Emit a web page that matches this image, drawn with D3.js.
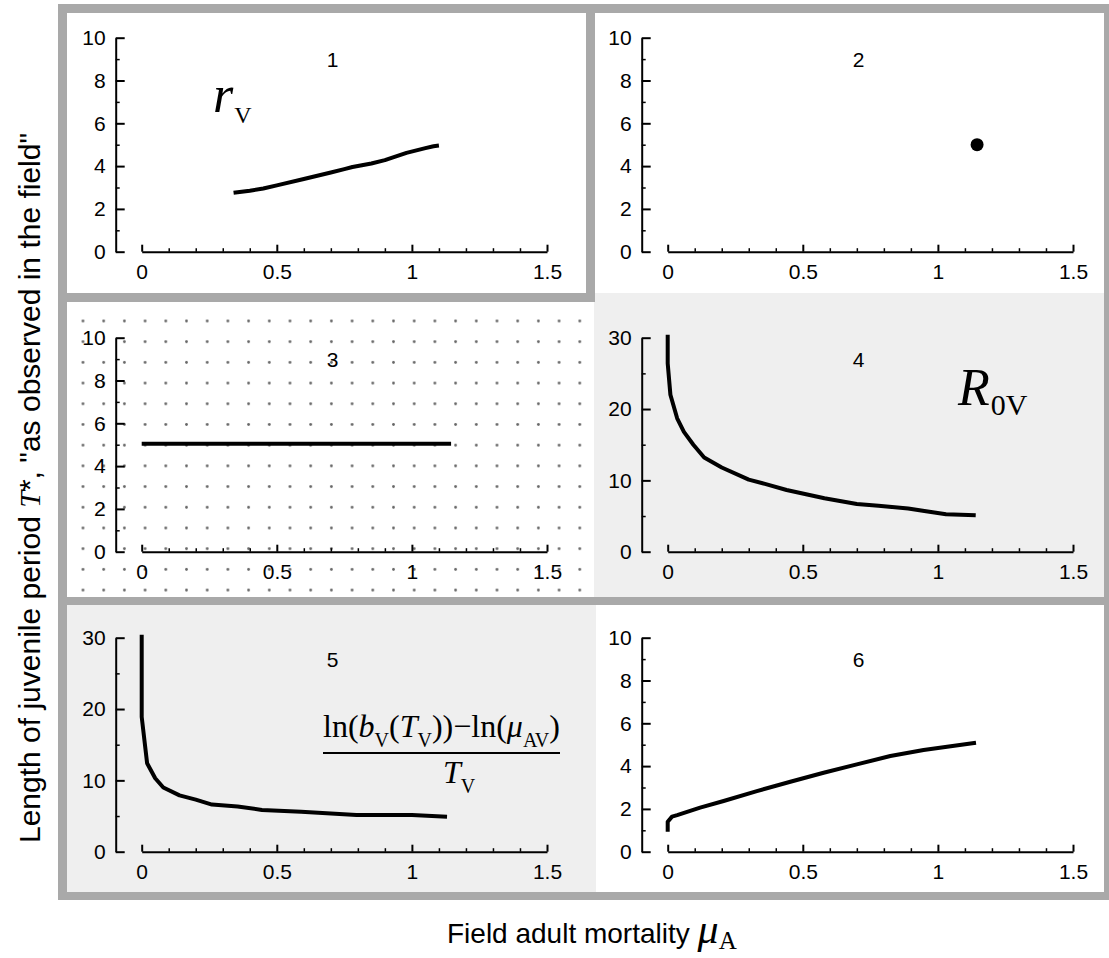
<!DOCTYPE html>
<html>
<head>
<meta charset="utf-8">
<script src="https://cdn.jsdelivr.net/npm/d3@7"></script>
<style>
  body { margin: 0; background: #fff; }
  svg { display: block; }
</style>
</head>
<body>
<svg id="chart"></svg>
<script>
// values
var xTicks = [0, 0.5, 1, 1.5];
var xMinor = d3.range(0, 1.51, 0.1).map(d => +d.toFixed(1));
var yTicks10 = [0, 2, 4, 6, 8, 10];
var yMinor10 = [1, 3, 5, 7, 9];
var yTicks30 = [0, 10, 20, 30];
var yMinor30 = [5, 15, 25];

var panel1X = [0.34, 0.40, 0.45, 0.50, 0.60, 0.70, 0.75, 0.78, 0.85, 0.90, 0.98, 1.05, 1.08, 1.10];
var panel1Y = [2.75, 2.85, 2.95, 3.10, 3.40, 3.70, 3.86, 3.96, 4.12, 4.28, 4.62, 4.84, 4.93, 4.96];

var panel2X = [1.145];
var panel2Y = [5.0];

var panel3X = [0, 1.145];
var panel3Y = [5.05, 5.05];

var panel4X = [0, 0, 0.01, 0.035, 0.06, 0.095, 0.135, 0.2, 0.3, 0.36, 0.44, 0.58, 0.70, 0.78, 0.89, 0.95, 1.03, 1.14];
var panel4Y = [30.4, 26.4, 22.0, 18.7, 16.8, 15.0, 13.2, 11.8, 10.1, 9.5, 8.65, 7.5, 6.7, 6.45, 6.05, 5.7, 5.25, 5.1];

var panel5X = [0, 0, 0.02, 0.05, 0.08, 0.14, 0.20, 0.26, 0.355, 0.445, 0.59, 0.795, 1.0, 1.13];
var panel5Y = [30.4, 18.9, 12.4, 10.3, 9.0, 7.9, 7.3, 6.6, 6.35, 5.85, 5.6, 5.15, 5.15, 4.9];

var panel6X = [0, 0, 0.016, 0.035, 0.12, 0.207, 0.33, 0.454, 0.577, 0.70, 0.824, 0.947, 1.034, 1.141];
var panel6Y = [0.93, 1.4, 1.64, 1.71, 2.06, 2.37, 2.83, 3.27, 3.69, 4.08, 4.47, 4.75, 4.9, 5.09];

var W = 1109, H = 958;
var sans = "'Liberation Sans', Arial, Helvetica, sans-serif";
var serif = "'Liberation Serif', 'Times New Roman', Times, serif";
var frameGrey = "#a9a9a9", lightGrey = "#efefef";
var tickFont = 21;

var svg = d3.select("#chart").attr("width", W).attr("height", H);

// background pattern of dots for panel 3
var defs = svg.append("defs");
var pat = defs.append("pattern")
    .attr("id", "dots")
    .attr("patternUnits", "userSpaceOnUse")
    .attr("width", 20.7).attr("height", 20.7)
    .attr("x", 83 - 10.35).attr("y", 321 - 10.35);
pat.append("circle").attr("cx", 10.35).attr("cy", 10.35).attr("r", 1.4).attr("fill", "#666");

// panel backgrounds
svg.append("rect").attr("x", 594).attr("y", 293).attr("width", 511).attr("height", 304).attr("fill", lightGrey);
svg.append("rect").attr("x", 67).attr("y", 605).attr("width", 529).attr("height", 287).attr("fill", lightGrey);
svg.append("rect").attr("x", 67).attr("y", 302).attr("width", 525).attr("height", 295).attr("fill", "url(#dots)");

// grey frames
var bands = [
  [58, 4, 1051, 9],     // top
  [58, 4, 9, 896],      // left
  [58, 892, 1051, 8],   // bottom
  [1104, 4, 5, 896],    // right
  [586, 4, 9, 298],     // panel 1 right
  [58, 293, 537, 9],    // panel 1 bottom
  [58, 597, 1051, 8]    // between rows 2 and 3
];
svg.selectAll("rect.band").data(bands).enter().append("rect")
    .attr("class", "band")
    .attr("x", d => d[0]).attr("y", d => d[1])
    .attr("width", d => d[2]).attr("height", d => d[3])
    .attr("fill", frameGrey);

var colX = [115.7, 641.7];
var rowY = [37.7, 337.7, 637.7];
var plotH = 214;

var panels = [
  {n: 1, col: 0, row: 0, yMax: 10, xs: panel1X, ys: panel1Y, kind: "line"},
  {n: 2, col: 1, row: 0, yMax: 10, xs: panel2X, ys: panel2Y, kind: "dot"},
  {n: 3, col: 0, row: 1, yMax: 10, xs: panel3X, ys: panel3Y, kind: "line"},
  {n: 4, col: 1, row: 1, yMax: 30, xs: panel4X, ys: panel4Y, kind: "line"},
  {n: 5, col: 0, row: 2, yMax: 30, xs: panel5X, ys: panel5Y, kind: "line"},
  {n: 6, col: 1, row: 2, yMax: 10, xs: panel6X, ys: panel6Y, kind: "line"}
];

function styleAxis(sel, w) {
  sel.attr("font-size", null).attr("font-family", null);
  sel.select(".domain").attr("stroke-width", 2);
  sel.selectAll(".tick line").attr("stroke-width", w);
  sel.selectAll(".tick text").attr("font-size", tickFont).attr("font-family", sans).attr("fill", "#000");
}

panels.forEach(function(p) {
  var left = colX[p.col], top = rowY[p.row];
  var x = d3.scaleLinear().domain([0, 1.5]).range([left + 26, left + 431.3]);
  var y = d3.scaleLinear().domain([0, p.yMax]).range([top + plotH, top]);
  var g = svg.append("g");

  var major = p.yMax === 10 ? yTicks10 : yTicks30;
  var minor = p.yMax === 10 ? yMinor10 : yMinor30;

  var yMin = g.append("g").attr("transform", `translate(${left},0)`)
      .call(d3.axisLeft(y).tickValues(minor).tickSize(-4).tickFormat(""));
  yMin.select(".domain").remove();
  styleAxis(yMin, 1.5);

  var yAx = g.append("g").attr("transform", `translate(${left},0)`)
      .call(d3.axisLeft(y).tickValues(major).tickSizeInner(-9).tickSizeOuter(0)
        .tickPadding(10).tickFormat(d => d));
  styleAxis(yAx, 2);

  var xMin = g.append("g").attr("transform", `translate(0,${top + plotH})`)
      .call(d3.axisBottom(x).tickValues(xMinor.filter(d => xTicks.indexOf(d) < 0)).tickSize(-3.5).tickFormat(""));
  xMin.select(".domain").remove();
  styleAxis(xMin, 1.5);

  var xAx = g.append("g").attr("transform", `translate(0,${top + plotH})`)
      .call(d3.axisBottom(x).tickValues(xTicks).tickSizeInner(-7).tickSizeOuter(0)
        .tickPadding(12).tickFormat(d => d));
  styleAxis(xAx, 2);

  // panel number
  g.append("text")
      .attr("x", left + 217).attr("y", top + 22).attr("dy", "0.35em")
      .attr("text-anchor", "middle")
      .attr("font-family", sans).attr("font-size", tickFont)
      .text(p.n);

  var pts = p.xs.map((d, i) => [d, p.ys[i]]);
  if (p.kind === "line") {
    g.append("path")
        .datum(pts)
        .attr("fill", "none")
        .attr("stroke", "#000")
        .attr("stroke-width", 4)
        .attr("stroke-linejoin", "round")
        .attr("d", d3.line().x(d => x(d[0])).y(d => y(d[1])));
  } else {
    g.selectAll("circle.pt").data(pts).enter().append("circle")
        .attr("class", "pt")
        .attr("cx", d => x(d[0])).attr("cy", d => y(d[1]))
        .attr("r", 6.5).attr("fill", "#000");
  }
});

// r_V in panel 1
var rv = svg.append("text").attr("x", 213).attr("y", 112).attr("font-family", serif);
rv.append("tspan").attr("font-style", "italic").attr("font-size", 52).text("r");
rv.append("tspan").attr("font-size", 24).attr("dx", 1).attr("dy", 11).text("V");

// R_0V in panel 4
var r0 = svg.append("text").attr("x", 958).attr("y", 405).attr("font-family", serif);
r0.append("tspan").attr("font-style", "italic").attr("font-size", 52).text("R");
r0.append("tspan").attr("font-size", 30).attr("dx", 1).attr("dy", 10).text("0V");

// formula in panel 5
var num = svg.append("text").attr("x", 323).attr("y", 737).attr("font-family", serif).attr("font-size", 32);
num.append("tspan").text("ln(");
num.append("tspan").attr("font-style", "italic").text("b");
num.append("tspan").attr("font-size", 20).attr("dy", 10).text("V");
num.append("tspan").attr("dy", -10).text("(");
num.append("tspan").attr("font-style", "italic").text("T");
num.append("tspan").attr("font-size", 20).attr("dy", 10).text("V");
num.append("tspan").attr("dy", -10).text("))\u2212ln(");
num.append("tspan").attr("font-style", "italic").text("\u03bc");
num.append("tspan").attr("font-size", 20).attr("dy", 10).text("AV");
num.append("tspan").attr("dy", -10).text(")");
svg.append("line").attr("x1", 323).attr("x2", 560).attr("y1", 753).attr("y2", 753)
    .attr("stroke", "#000").attr("stroke-width", 2);
var den = svg.append("text").attr("x", 443).attr("y", 783).attr("font-family", serif).attr("font-size", 32);
den.append("tspan").attr("font-style", "italic").text("T");
den.append("tspan").attr("font-size", 20).attr("dy", 10).text("V");

// x axis title
var xt = svg.append("text").attr("x", 447).attr("y", 943).attr("font-family", sans).attr("font-size", 28);
xt.append("tspan").text("Field adult mortality ");
xt.append("tspan").attr("font-family", serif).attr("font-style", "italic").attr("font-size", 42).text("\u03bc");
xt.append("tspan").attr("font-family", serif).attr("font-size", 25).attr("dy", 6).text("A");

// y axis title
var yt = svg.append("text")
    .attr("transform", "translate(40,843) rotate(-90)")
    .attr("font-family", sans).attr("font-size", 30);
yt.append("tspan").text("Length of juvenile period ");
yt.append("tspan").attr("font-family", serif).attr("font-style", "italic").text("T");
yt.append("tspan").text("*,  \"as observed in the field\"");
</script>
</body>
</html>
